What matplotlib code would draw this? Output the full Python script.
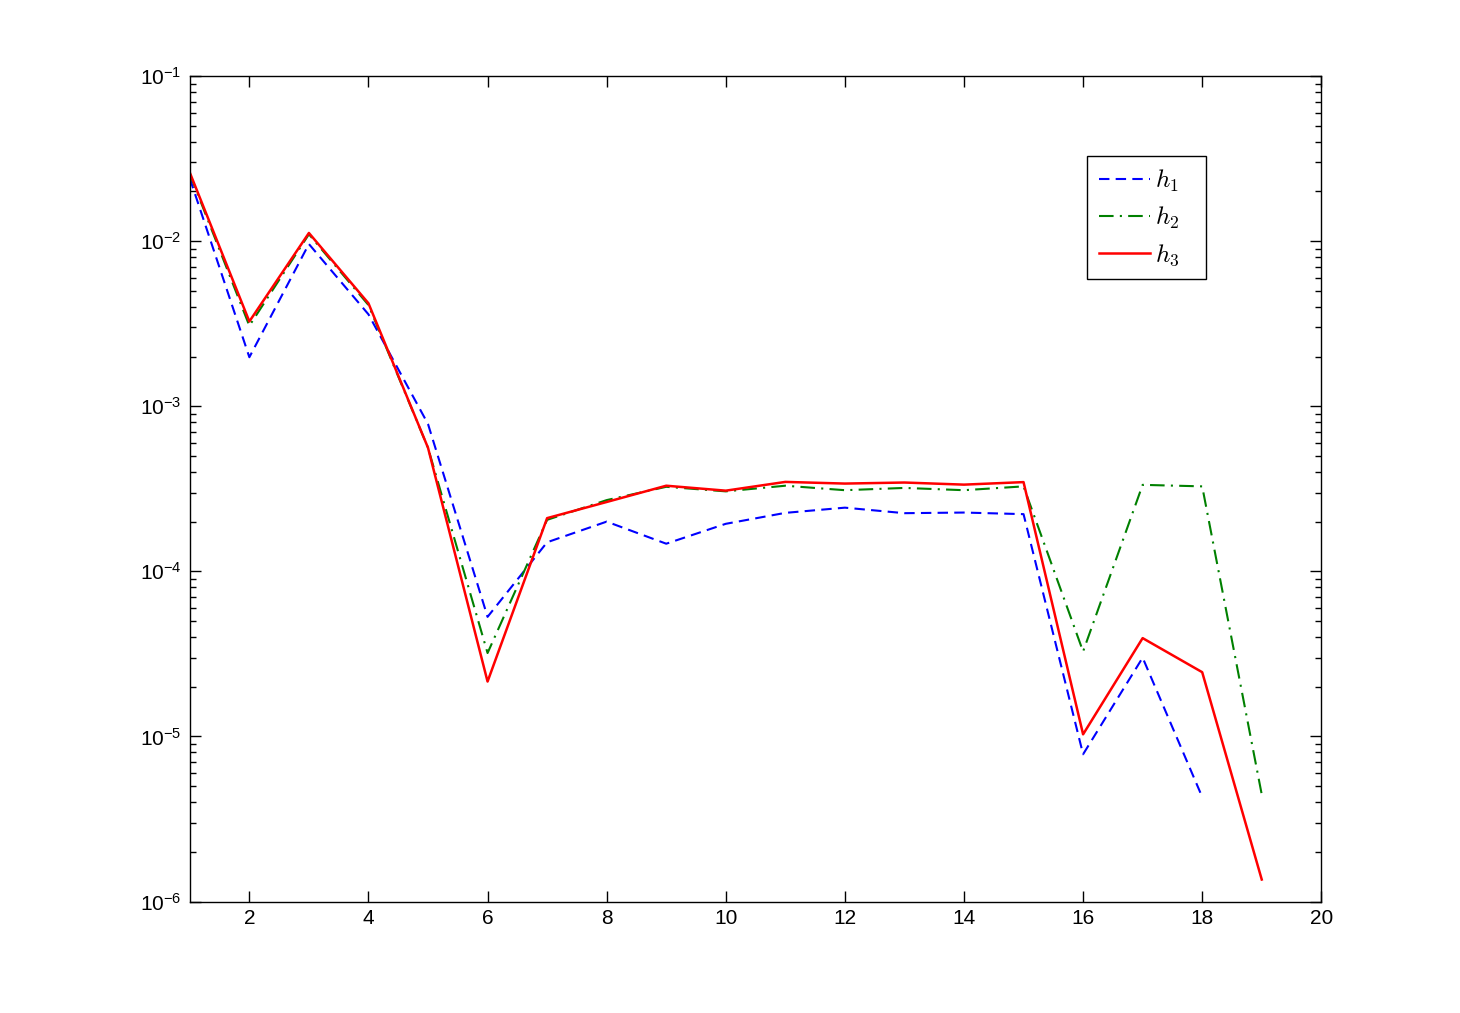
import numpy as np
import matplotlib
matplotlib.use("Agg")
import matplotlib.pyplot as plt
from matplotlib.ticker import FuncFormatter, LogLocator, NullFormatter

plt.rcParams['mathtext.fontset'] = 'cm'
plt.rcParams['font.family'] = ['Liberation Sans', 'DejaVu Sans']

x1 = np.arange(1, 19)
x23 = np.arange(1, 20)
h1 = [2.4e-2, 1.98e-3, 9.6e-3, 3.6e-3, 7.8e-4, 5.3e-5, 1.5e-4, 2.0e-4, 1.47e-4,
      1.94e-4, 2.26e-4, 2.43e-4, 2.25e-4, 2.27e-4, 2.22e-4, 7.8e-6, 3.0e-5, 4.3e-6]
h2 = [2.55e-2, 3.07e-3, 1.1e-2, 4.1e-3, 5.6e-4, 3.2e-5, 2.05e-4, 2.7e-4, 3.25e-4,
      3.05e-4, 3.3e-4, 3.1e-4, 3.2e-4, 3.1e-4, 3.27e-4, 3.27e-5, 3.34e-4, 3.27e-4, 4.45e-6]
h3 = [2.6e-2, 3.26e-3, 1.12e-2, 4.2e-3, 5.6e-4, 2.15e-5, 2.1e-4, 2.63e-4, 3.3e-4,
      3.08e-4, 3.48e-4, 3.4e-4, 3.45e-4, 3.35e-4, 3.47e-4, 1.03e-5, 3.94e-5, 2.45e-5, 1.36e-6]

fig = plt.figure(figsize=(14.6, 10.13), dpi=100)
ax = fig.add_axes([0.13, 0.11, 0.775, 0.815])

ax.semilogy(x1, h1, color=(0, 0, 1), lw=1.5, dashes=(5, 3), label=r'$h_1$')
ax.semilogy(x23, h2, color=(0, 0.5, 0), lw=1.5, dashes=(7, 3, 1, 3), label=r'$h_2$')
ax.semilogy(x23, h3, color=(1, 0, 0), lw=1.8, label=r'$h_3$')

ax.set_xlim(1, 20)
ax.set_ylim(1e-6, 1e-1)
ax.set_xticks(np.arange(2, 21, 2))
ax.yaxis.set_major_locator(LogLocator(base=10, numticks=10))
ax.yaxis.set_minor_locator(LogLocator(base=10, subs=np.arange(2, 10), numticks=10))
ax.yaxis.set_minor_formatter(NullFormatter())
ax.yaxis.set_major_formatter(FuncFormatter(
    lambda v, p: r'$\mathregular{10^{%d}}$' % int(round(np.log10(v)))))
ax.tick_params(which='both', direction='in', top=True, right=True, labelsize=15)
ax.tick_params(which='major', length=8, width=1)
ax.tick_params(which='minor', length=4, width=1)
ax.tick_params(axis='x', pad=5)
ax.tick_params(axis='y', pad=6)
for s in ax.spines.values():
    s.set_linewidth(1)

leg = ax.legend(loc='upper left', bbox_to_anchor=(0.7933, 0.903), borderaxespad=0,
                fontsize=18, handlelength=2.05, handletextpad=0.2, fancybox=False,
                edgecolor='k', framealpha=1, borderpad=0.45, labelspacing=0.45)
frame = leg.get_frame()
frame.set_linewidth(1)

# matlab legends leave extra room right of the labels
_set_bounds = frame.set_bounds
def wide_bounds(b, *rest):
    x, y, w, h = b if not rest else (b,) + rest
    _set_bounds(x, y, w + 15, h)
frame.set_bounds = wide_bounds

fig.savefig('out.png', dpi=100, facecolor='white')
